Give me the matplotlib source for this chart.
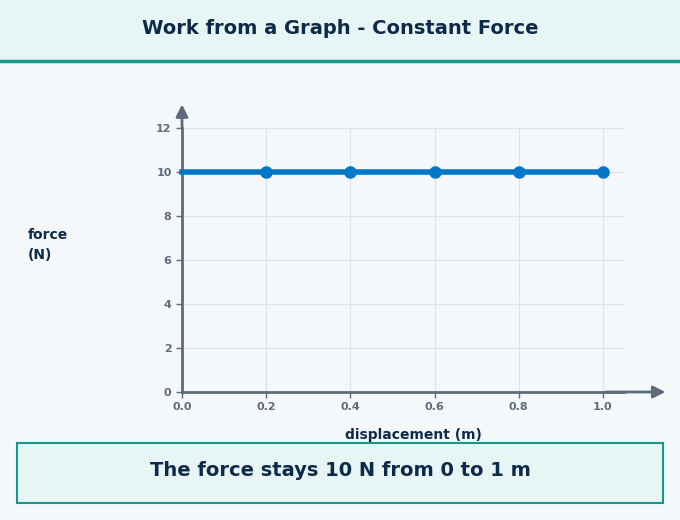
import matplotlib
matplotlib.use("Agg")
import matplotlib.pyplot as plt
from matplotlib.patches import Rectangle

displacement = [0.0, 0.2, 0.4, 0.6, 0.8, 1.0]
force = [10, 10, 10, 10, 10, 10]
marker_x = [0.2, 0.4, 0.6, 0.8, 1.0]
marker_y = [10, 10, 10, 10, 10]

navy = "#0d2a4a"
teal = "#12998b"
axis_gray = "#5d6b7a"

fig = plt.figure(figsize=(6.8, 5.2), dpi=100, facecolor="#f4f8fb")

# title band
fig.patches.append(Rectangle((0, 1 - 60/520), 1, 60/520, transform=fig.transFigure,
                             facecolor="#e8f5f5", edgecolor="none", zorder=0))
fig.lines.append(plt.Line2D([0, 1], [1 - 61/520] * 2, transform=fig.transFigure,
                            color=teal, lw=2.5))
fig.text(0.5, 1 - 28/520, "Work from a Graph - Constant Force", ha="center", va="center",
         fontsize=14, fontweight="bold", color=navy)

ax = fig.add_axes([182/680, 1 - 392/520, 442/680, 264/520])
ax.set_facecolor("#f4f8fb")
ax.set_xlim(0, 1.05)
ax.set_ylim(0, 12)
ax.set_xticks([0, 0.2, 0.4, 0.6, 0.8, 1.0])
ax.set_yticks(range(0, 13, 2))
ax.set_xticklabels(["0.0", "0.2", "0.4", "0.6", "0.8", "1.0"])
ax.grid(color="#d6e4ef", lw=0.8)
for s in ["top", "right"]:
    ax.spines[s].set_visible(False)
for s in ["left", "bottom"]:
    ax.spines[s].set_color(axis_gray)
    ax.spines[s].set_linewidth(2)
ax.tick_params(colors=axis_gray, labelsize=8, length=4, width=1)
for lab in ax.get_xticklabels() + ax.get_yticklabels():
    lab.set_fontweight("bold")

ax.annotate("", xy=(1.155, 0), xytext=(1.0, 0), xycoords="data",
            arrowprops=dict(arrowstyle="-|>", color=axis_gray, lw=2, mutation_scale=18),
            annotation_clip=False)
ax.annotate("", xy=(0, 13.2), xytext=(0, 11.9), xycoords="data",
            arrowprops=dict(arrowstyle="-|>", color=axis_gray, lw=2, mutation_scale=18),
            annotation_clip=False)

ax.plot(displacement, force, color="#0077c8", lw=4, clip_on=False, zorder=3)
ax.plot(marker_x, marker_y, "o", color="#0077c8", ms=8, clip_on=False, zorder=4)

fig.text(28/680, 1 - 245/520, "force\n(N)", ha="left", va="center", fontsize=10,
         fontweight="bold", color=navy, linespacing=1.6)
fig.text(413/680, 1 - 435/520, "displacement (m)", ha="center", va="center", fontsize=10,
         fontweight="bold", color=navy)

fig.patches.append(Rectangle((17/680, 1 - 503/520), 646/680, 60/520, transform=fig.transFigure,
                             facecolor="#e8f5f5", edgecolor=teal, lw=1.5))
fig.text(340/680, 1 - 471/520, "The force stays 10 N from 0 to 1 m", ha="center", va="center",
         fontsize=14, fontweight="bold", color=navy)

fig.savefig("out.png", dpi=100, facecolor=fig.get_facecolor())
